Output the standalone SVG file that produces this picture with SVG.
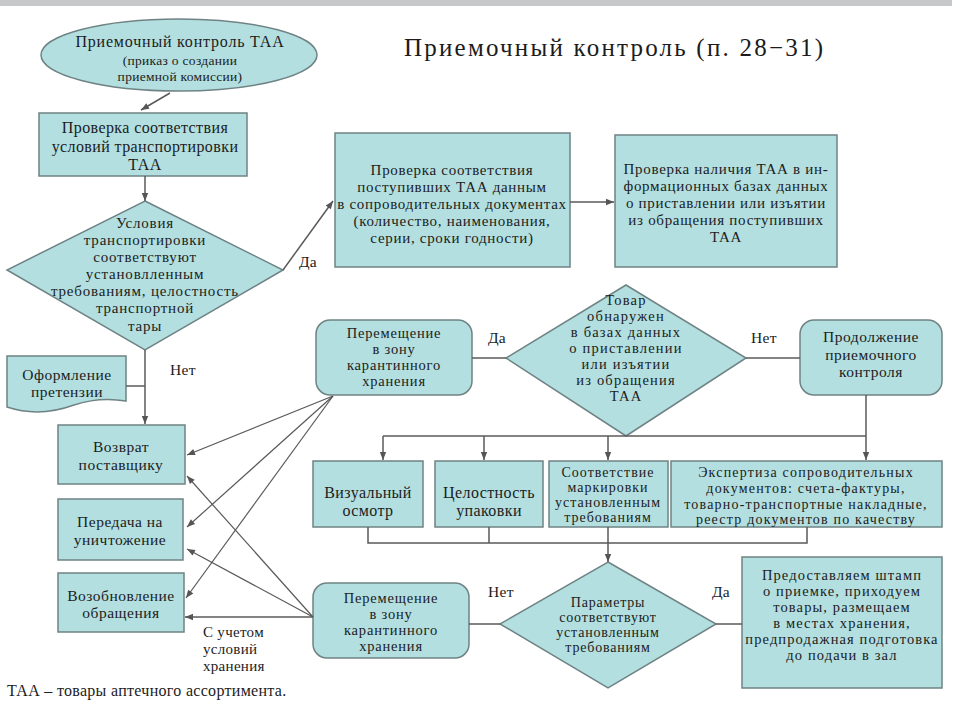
<svg xmlns="http://www.w3.org/2000/svg" width="960" height="720" viewBox="0 0 960 720">
<defs>
<style>
.n{fill:#b3dfe0;stroke:#6f8384;stroke-width:1.5}
text{font-family:"Liberation Serif","Times New Roman",serif;fill:#1c1c1c}
.t{font-size:15.5px;letter-spacing:0.5px;text-anchor:middle}
.b{font-size:16px;letter-spacing:0.4px;text-anchor:middle}
.m{font-size:14.5px;letter-spacing:0.8px;text-anchor:middle}
.d{font-size:14px;letter-spacing:1px;text-anchor:middle}
.s{font-size:13.5px;letter-spacing:0.3px;text-anchor:middle}
.l{font-size:15.5px;letter-spacing:0.3px}
.ti{font-size:25px}
.c{fill:none;stroke:#5a5a5a;stroke-width:1.5}
.f{fill:none;stroke:#5a5a5a;stroke-width:1.2}
</style>
<marker id="a" viewBox="0 0 10 10" refX="10" refY="5" markerWidth="9" markerHeight="8" markerUnits="userSpaceOnUse" orient="auto"><path d="M0,1 L10,5 L0,9 Z" fill="#555"/></marker>
</defs>
<rect x="0" y="0" width="952" height="6" fill="#c6c8ca"/>
<text class="ti" x="404" y="56" textLength="419" lengthAdjust="spacing">Приемочный контроль (п. 28−31)</text>

<g id="start">
<ellipse class="n" cx="179" cy="55" rx="138" ry="36"/>
<text class="b" x="180" y="47" style="letter-spacing:0.8px">Приемочный контроль ТАА</text>
<text class="s" x="180" y="65">(приказ о создании</text>
<text class="s" x="180" y="81">приемной комиссии)</text>
</g>
<g id="box1">
<rect class="n" x="39" y="113" width="208" height="63"/>
<text class="b" x="145" y="133">Проверка соответствия</text>
<text class="b" x="145" y="152">условий транспортировки</text>
<text class="b" x="145" y="170">ТАА</text>
</g>
<g id="dec1">
<polygon class="n" points="145,201 283,270 145,350 7,270"/>
<text class="t" x="145" y="228" style="font-size:15px;letter-spacing:0.8px">Условия</text>
<text class="t" x="145" y="245" style="font-size:15px;letter-spacing:0.8px">транспортировки</text>
<text class="t" x="145" y="262" style="font-size:15px;letter-spacing:0.8px">соответствуют</text>
<text class="t" x="145" y="279" style="font-size:15px;letter-spacing:0.8px">установлленным</text>
<text class="t" x="145" y="296" style="font-size:15px;letter-spacing:0.8px">требованиям, целостность</text>
<text class="t" x="145" y="313" style="font-size:15px;letter-spacing:0.8px">транспортной</text>
<text class="t" x="145" y="331" style="font-size:15px;letter-spacing:0.8px">тары</text>
</g>
<g id="box2">
<rect class="n" x="335" y="133" width="235" height="134"/>
<text class="t" x="452" y="175" style="font-size:15px;letter-spacing:0.7px">Проверка соответствия</text>
<text class="t" x="452" y="192" style="font-size:15px;letter-spacing:0.7px">поступивших ТАА данным</text>
<text class="t" x="452" y="209" style="font-size:15px;letter-spacing:0.7px">в сопроводительных документах</text>
<text class="t" x="452" y="226" style="font-size:15px;letter-spacing:0.7px">(количество, наименования,</text>
<text class="t" x="452" y="243" style="font-size:15px;letter-spacing:0.7px">серии, сроки годности)</text>
</g>
<g id="box3">
<rect class="n" x="615" y="135" width="222" height="132"/>
<text class="t" x="726" y="174" style="font-size:15px;letter-spacing:0.7px">Проверка наличия ТАА в ин-</text>
<text class="t" x="726" y="191" style="font-size:15px;letter-spacing:0.7px">формационных базах данных</text>
<text class="t" x="726" y="208" style="font-size:15px;letter-spacing:0.7px">о приставлении или изъятии</text>
<text class="t" x="726" y="225" style="font-size:15px;letter-spacing:0.7px">из обращения поступивших</text>
<text class="t" x="726" y="242" style="font-size:15px;letter-spacing:0.7px">ТАА</text>
</g>
<g id="claim">
<path class="n" d="M7,356 H126 V401 C108,398 92,399 74,405 C52,413 28,414 7,407 Z"/>
<text class="t" x="67" y="380">Оформление</text>
<text class="t" x="67" y="397">претензии</text>
</g>
<g id="q1">
<rect class="n" x="316" y="320" width="156" height="75" rx="14"/>
<text class="m" x="394" y="338">Перемещение</text>
<text class="m" x="394" y="354">в зону</text>
<text class="m" x="394" y="370">карантинного</text>
<text class="m" x="394" y="386">хранения</text>
</g>
<g id="dec2">
<polygon class="n" points="626,285 746,358 626,436 506,358"/>
<text class="m" x="626" y="305" style="letter-spacing:1.2px">Товар</text>
<text class="m" x="626" y="321" style="letter-spacing:1.2px">обнаружен</text>
<text class="m" x="626" y="337" style="letter-spacing:1.2px">в базах данных</text>
<text class="m" x="626" y="353" style="letter-spacing:1.2px">о приставлении</text>
<text class="m" x="626" y="369" style="letter-spacing:1.2px">или изъятии</text>
<text class="m" x="626" y="385" style="letter-spacing:1.2px">из обращения</text>
<text class="m" x="626" y="401" style="letter-spacing:1.2px">ТАА</text>
</g>
<g id="cont">
<rect class="n" x="800" y="320" width="142" height="75" rx="14"/>
<text class="t" x="871" y="342">Продолжение</text>
<text class="t" x="871" y="360">приемочного</text>
<text class="t" x="871" y="377">контроля</text>
</g>
<g id="visual">
<rect class="n" x="313" y="461" width="110" height="66"/>
<text class="b" x="368" y="498">Визуальный</text>
<text class="b" x="368" y="516">осмотр</text>
</g>
<g id="pack">
<rect class="n" x="435" y="461" width="108" height="66"/>
<text class="b" x="489" y="498">Целостность</text>
<text class="b" x="489" y="516">упаковки</text>
</g>
<g id="mark">
<rect class="n" x="549" y="461" width="119" height="66"/>
<text class="d" x="608" y="477">Соответствие</text>
<text class="d" x="608" y="492">маркировки</text>
<text class="d" x="608" y="507">установленным</text>
<text class="d" x="608" y="522">требованиям</text>
</g>
<g id="docs">
<rect class="n" x="671" y="461" width="271" height="66"/>
<text class="d" x="806" y="477" style="letter-spacing:1.2px">Экспертиза сопроводительных</text>
<text class="d" x="806" y="493" style="letter-spacing:1.2px">документов: счета-фактуры,</text>
<text class="d" x="806" y="509" style="letter-spacing:1.2px">товарно-транспортные накладные,</text>
<text class="d" x="806" y="524" style="letter-spacing:1.2px">реестр документов по качеству</text>
</g>
<g id="dec3">
<polygon class="n" points="608,562 716,624 608,688 500,624"/>
<text class="d" x="608" y="607" style="letter-spacing:0.8px">Параметры</text>
<text class="d" x="608" y="622" style="letter-spacing:0.8px">соответствуют</text>
<text class="d" x="608" y="637" style="letter-spacing:0.8px">установленным</text>
<text class="d" x="608" y="652" style="letter-spacing:0.8px">требованиям</text>
</g>
<g id="q2">
<rect class="n" x="313" y="583" width="156" height="75" rx="14"/>
<text class="m" x="391" y="603">Перемещение</text>
<text class="m" x="391" y="619">в зону</text>
<text class="m" x="391" y="635">карантинного</text>
<text class="m" x="391" y="651">хранения</text>
</g>
<g id="accept">
<rect class="n" x="742" y="557" width="200" height="131"/>
<text class="m" x="842" y="580" style="letter-spacing:1.1px">Предоставляем штамп</text>
<text class="m" x="842" y="596" style="letter-spacing:1.1px">о приемке, приходуем</text>
<text class="m" x="842" y="612" style="letter-spacing:1.1px">товары, размещаем</text>
<text class="m" x="842" y="628" style="letter-spacing:1.1px">в местах хранения,</text>
<text class="m" x="842" y="644" style="letter-spacing:1.1px">предпродажная подготовка</text>
<text class="m" x="842" y="660" style="letter-spacing:1.1px">до подачи в зал</text>
</g>
<g id="ret">
<rect class="n" x="58" y="425" width="127" height="59"/>
<text class="t" x="121" y="452">Возврат</text>
<text class="t" x="121" y="470">поставщику</text>
</g>
<g id="destroy">
<rect class="n" x="58" y="499" width="125" height="61"/>
<text class="t" x="120" y="527">Передача на</text>
<text class="t" x="120" y="545">уничтожение</text>
</g>
<g id="resume">
<rect class="n" x="58" y="573" width="126" height="59"/>
<text class="t" x="121" y="601">Возобновление</text>
<text class="t" x="121" y="618">обращения</text>
</g>

<g id="connectors">
<path class="c" d="M170,93 L141,110" marker-end="url(#a)"/>
<path class="c" d="M145,176 V201" marker-end="url(#a)"/>
<path class="c" d="M283,270 L333,201" marker-end="url(#a)"/>
<path class="c" d="M570,202 H614" marker-end="url(#a)"/>
<path class="c" d="M145,350 V424" marker-end="url(#a)"/>
<path class="c" d="M126,386 H145"/>
<path class="c" d="M472,358 H506"/>
<path class="c" d="M746,358 H800"/>
<path class="c" d="M866,395 V460" marker-end="url(#a)"/>
<path class="c" d="M383,436 H866"/>
<path class="c" d="M383,436 V460" marker-end="url(#a)"/>
<path class="c" d="M484,436 V460" marker-end="url(#a)"/>
<path class="c" d="M608,436 V460" marker-end="url(#a)"/>
<path class="c" d="M368,527 V543 H807 V527 M489,527 V543"/>
<path class="c" d="M608,527 V562" marker-end="url(#a)"/>
<path class="c" d="M500,624 H469"/>
<path class="c" d="M716,624 H742"/>
<path class="f" d="M333,396 L187,455" marker-end="url(#a)"/>
<path class="f" d="M333,396 L187,527" marker-end="url(#a)"/>
<path class="f" d="M333,396 L186,598" marker-end="url(#a)"/>
<path class="f" d="M313,617 L187,476" marker-end="url(#a)"/>
<path class="f" d="M313,617 L187,549" marker-end="url(#a)"/>
<path class="c" d="M313,617 H185" stroke-width="2" marker-end="url(#a)"/>
</g>

<g id="labels">
<text class="l" x="299" y="267">Да</text>
<text class="l" x="170" y="375">Нет</text>
<text class="l" x="488" y="343">Да</text>
<text class="l" x="751" y="343">Нет</text>
<text class="l" x="488" y="597">Нет</text>
<text class="l" x="712" y="597">Да</text>
<text class="l" x="203" y="637" style="font-size:15px">С учетом</text>
<text class="l" x="203" y="654" style="font-size:15px">условий</text>
<text class="l" x="203" y="671" style="font-size:15px">хранения</text>
</g>
<text class="l" x="7" y="696" style="font-size:16px">ТАА – товары аптечного ассортимента.</text>
</svg>
